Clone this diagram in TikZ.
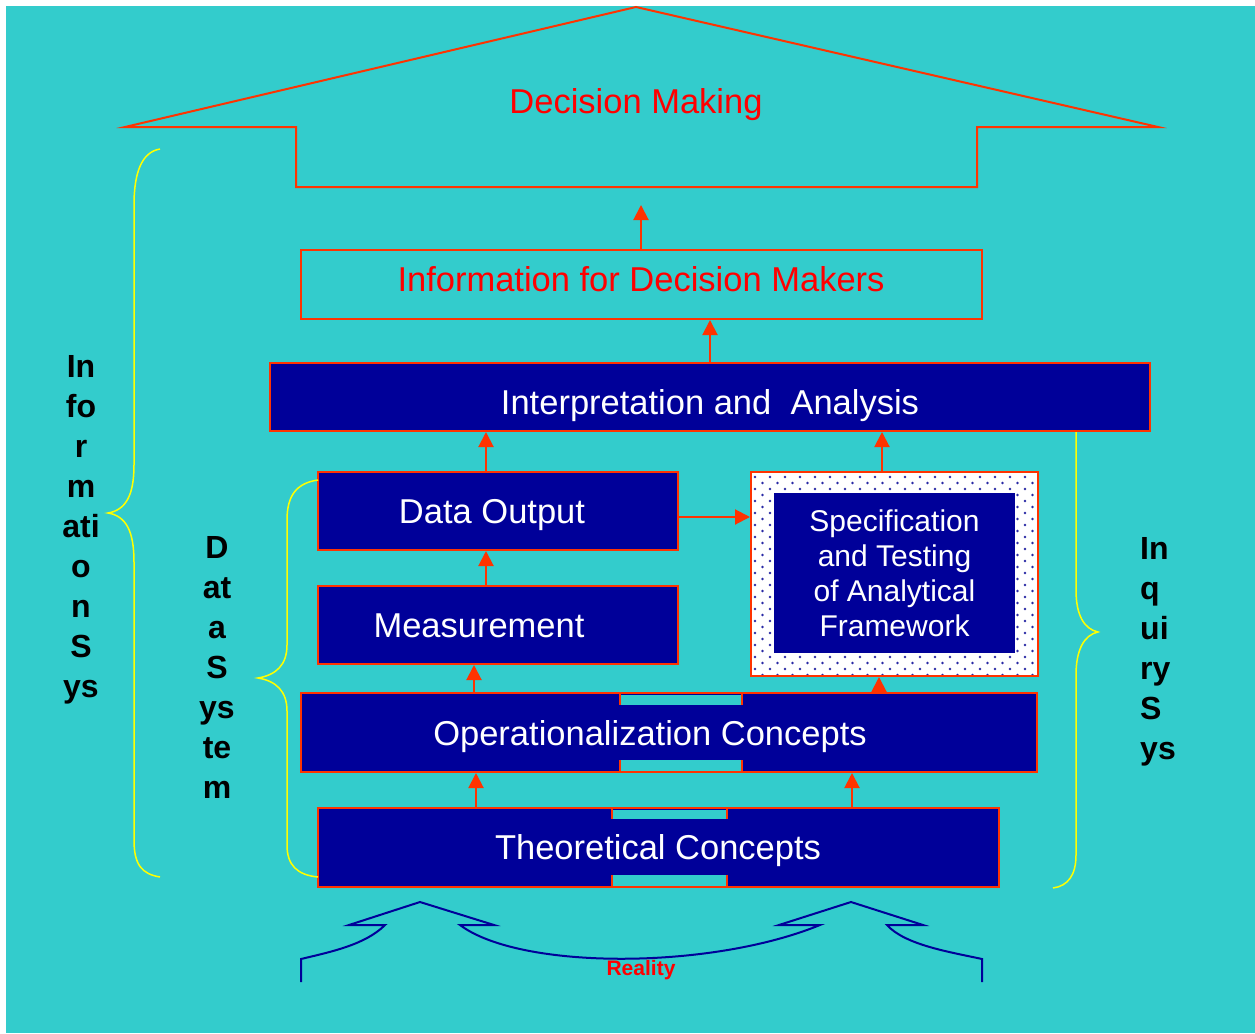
\documentclass[tikz,border=0pt]{standalone}
\usepackage{fontspec}
\setmainfont{Liberation Sans}
\usetikzlibrary{arrows.meta}
\definecolor{bg}{HTML}{33CCCC}
\definecolor{navy}{HTML}{000099}
\definecolor{lred}{HTML}{FF3300}
\definecolor{tred}{HTML}{FF0000}
\definecolor{yel}{HTML}{FFFF00}
\definecolor{dotc}{HTML}{2A2AA5}
\begin{document}
\begin{tikzpicture}[x=1pt,y=-1pt,
  navybox/.style={draw=lred, line width=2pt, fill=navy, inner sep=0pt},
  redbox/.style={draw=lred, line width=2pt, inner sep=0pt},
  boxtext/.style={text=white, inner sep=0pt, font=\fontsize{34.5}{40}\selectfont},
  redtext/.style={text=tred, inner sep=0pt, font=\fontsize{34.5}{40}\selectfont},
  arr/.style={draw=lred, line width=2pt, -{Triangle[length=15pt,width=15pt]}},
  brace/.style={draw=yel, line width=1.5pt},
  notch/.style={fill=bg},
  notchside/.style={draw=lred, line width=1.5pt},
  sidelabel/.style={font=\fontsize{32}{40}\selectfont\bfseries, text=black, inner sep=0pt},
  realline/.style={draw=navy, line width=2pt, line join=miter}
]
\useasboundingbox (0,0) rectangle (1255,1033);
\fill[white] (0,0) rectangle (1255,1033);
\fill[bg] (6,6) rectangle (1255,1033);

% house
\draw[lred, line width=2pt, line join=miter] (636,7) -- (1158,127) -- (977,127) -- (977,187) -- (296,187) -- (296,127) -- (125,127) -- cycle;
\node[redtext] (dm) at (636,105) {Decision Making};
\coordinate (housetip) at (641,205);

% boxes
\node[redbox, minimum width=681pt, minimum height=69pt] (info) at (641.5,284.5) {};
\node[redtext] (infotext) at (641,279.5) {Information for Decision Makers};
\node[navybox, minimum width=880pt, minimum height=68pt] (interp) at (710,397) {};
\node[boxtext] (interptext) at (710,406) {Interpretation and\ \ Analysis};
\node[navybox, minimum width=360pt, minimum height=78pt] (dout) at (498,511) {};
\node[boxtext] (douttext) at (492,515) {Data Output};
\node[navybox, minimum width=360pt, minimum height=78pt] (meas) at (498,625) {};
\node[boxtext] (meastext) at (479,626) {Measurement};
\node[navybox, minimum width=736pt, minimum height=79pt] (op) at (669,732.5) {};
\node[navybox, minimum width=681pt, minimum height=79pt] (theo) at (658.5,847.5) {};

% notches
\fill[notch] (620,695) rectangle (742,705);
\fill[notch] (620,760) rectangle (742,771);
\draw[notchside] (620,694) -- (620,705) (742,694) -- (742,705);
\draw[notchside] (620,760) -- (620,772) (742,760) -- (742,772);
\fill[notch] (612,810) rectangle (727,819);
\fill[notch] (612,875) rectangle (727,886);
\draw[notchside] (612,809) -- (612,819) (727,809) -- (727,819);
\draw[notchside] (612,875) -- (612,887) (727,875) -- (727,887);
\node[boxtext] (optext) at (650,736.5) {Operationalization Concepts};
\node[boxtext] (theotext) at (658,850.5) {Theoretical Concepts};

% specification box
\node[draw=lred, line width=2pt, fill=white, minimum width=287pt, minimum height=204pt, inner sep=0pt] (specbox) at (894.5,574) {};
\begin{scope}
\clip (753,474) rectangle (1036,674);
\foreach \r in {0,...,34} {
  \pgfmathsetmacro\off{mod(\r,2)*7.5}
  \foreach \c in {0,...,19} {
    \fill[dotc] ({755+15*\c+\off},{477+6*\r}) circle (1.3);
  }
}
\end{scope}
\node[fill=navy, text=white, minimum width=241pt, minimum height=160pt, inner sep=0pt,
  align=center, font=\fontsize{30}{35}\selectfont] (spec) at (894.5,573)
  {Specification\\ and Testing\\ of Analytical\\Framework};

% arrows
\draw[arr] (info.north -| housetip) -- (housetip);
\draw[arr] (interp.north) -- (interp.north |- info.south);
\draw[arr] ([xshift=-12pt]dout.north) -- ([xshift=-12pt]dout.north |- interp.south);
\draw[arr] ([xshift=-12.5pt]specbox.north) -- ([xshift=-12.5pt]specbox.north |- interp.south);
\draw[arr] ([yshift=-6pt]dout.east) -- ([yshift=-6pt]dout.east -| specbox.west);
\draw[arr] ([xshift=-12pt]meas.north) -- ([xshift=-12pt]meas.north |- dout.south);
\draw[arr] ([xshift=-195pt]op.north) -- ([xshift=-195pt]op.north |- meas.south);
\draw[arr] ([xshift=210pt]op.north) -- ([xshift=210pt]op.north |- specbox.south);
\draw[arr] ([xshift=-182.5pt]theo.north) -- ([xshift=-182.5pt]theo.north |- op.south);
\draw[arr] ([xshift=193.5pt]theo.north) -- ([xshift=193.5pt]theo.north |- op.south);

% braces
\draw[brace] (160,149) .. controls (142,152) and (134,172) .. (134,205) -- (134,465)
  .. controls (134,495) and (126,510) .. (108,513)
  .. controls (126,516) and (134,531) .. (134,562) -- (134,840)
  .. controls (134,865) and (142,874) .. (160,877);
\draw[brace] (318,480) .. controls (297,483) and (287,495) .. (287,520) -- (287,645)
  .. controls (287,665) and (276,675) .. (258,678)
  .. controls (276,681) and (287,691) .. (287,711) -- (287,845)
  .. controls (287,865) and (297,875) .. (318,877);
\draw[brace] (interp.south -| 1076,0) -- (1076,590)
  .. controls (1076,615) and (1084,629) .. (1098,632)
  .. controls (1084,635) and (1076,650) .. (1076,675) -- (1076,855)
  .. controls (1076,875) and (1068,886) .. (1053,888);

% side labels
\node[sidelabel, align=center] (infosys) at (81,530) {In\\fo\\r\\m\\ati\\o\\n\\S\\ys};
\node[sidelabel, align=center] (datasys) at (217,667) {D\\at\\a\\S\\ys\\te\\m};
\node[sidelabel, align=left, anchor=west] (inqsys) at (1140,652) {In\\q\\ui\\ry\\S\\ys};

% reality
\draw[realline] (301,982) -- (301,959) .. controls (330,952) and (365,945) .. (385,925)
  -- (349,925) -- (420,902) -- (494,925) -- (460,925)
  .. controls (520,970) and (710,970) .. (820,925)
  -- (779,925) -- (851,902) -- (923,925) -- (887,925)
  .. controls (905,945) and (950,952) .. (982,959) -- (982,982);
\node[text=tred, font=\fontsize{21}{24}\selectfont\bfseries] (reality) at (641,970) {Reality};
\end{tikzpicture}
\end{document}
